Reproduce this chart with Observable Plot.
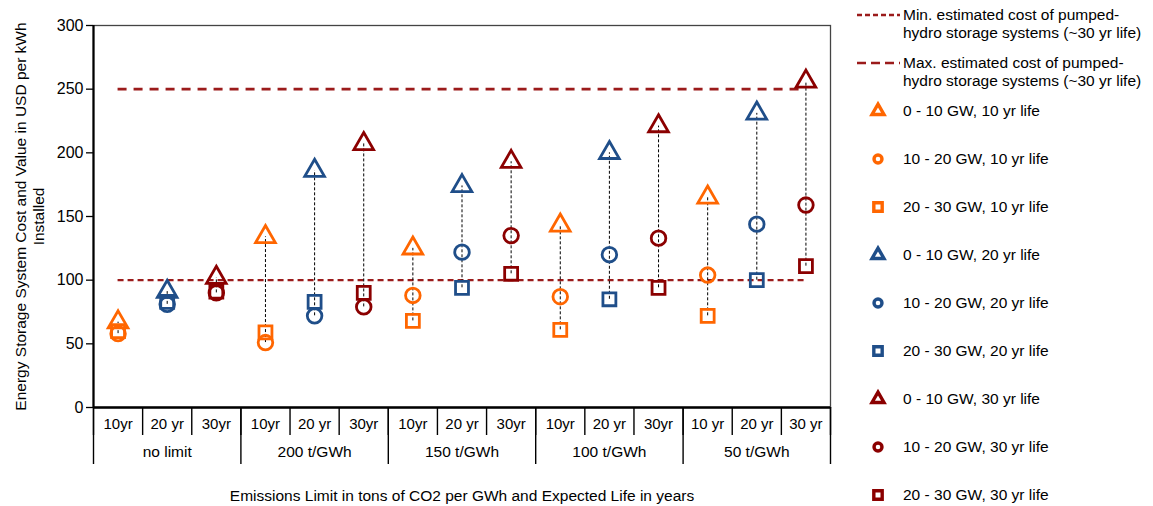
<!DOCTYPE html>
<html>
<head>
<meta charset="utf-8">
<script src="https://cdn.jsdelivr.net/npm/d3@7"></script>
<script src="https://cdn.jsdelivr.net/npm/@observablehq/plot@0.6"></script>
<style>
  html, body { margin: 0; padding: 0; background: #fff; }
  #chart svg { display: block; }
</style>
</head>
<body>
<div id="chart"></div>
<script>
// ---- data ----
const limits = ["no limit", "200 t/GWh", "150 t/GWh", "100 t/GWh", "50 t/GWh"];
const lifeTickLabels = ["10yr", "20 yr", "30yr", "10yr", "20 yr", "30yr", "10yr", "20 yr", "30yr",
                        "10yr", "20 yr", "30yr", "10 yr", "20 yr", "30 yr"];
const lifeKeys = ["10 yr life", "20 yr life", "30 yr life"];
const sizeKeys = ["0 - 10 GW", "10 - 20 GW", "20 - 30 GW"];
// values per category (15 categories: 5 limits x 3 lives)
const val0to10 = [67, 91, 102, 134, 186, 207, 125, 174, 193, 143, 200, 221, 165, 231, 256];
const val10to20 = [58, 81, 90, 51, 72, 79, 88, 122, 135, 87, 120, 133, 104, 144, 159];
const val20to30 = [60, 83, 91, 59, 83, 90, 68, 94, 105, 61, 85, 94, 72, 100, 111];
const minPumpedHydro = 100;
const maxPumpedHydro = 250;
const yTicks = [0, 50, 100, 150, 200, 250, 300];
const yTitle = "Energy Storage System Cost and Value in USD per kWh\nInstalled";
const xTitle = "Emissions Limit in tons of CO2 per GWh and Expected Life in years";
const minLabel = "Min. estimated cost of pumped-\nhydro storage systems (~30 yr life)";
const maxLabel = "Max. estimated cost of pumped-\nhydro storage systems (~30 yr life)";

// ---- styles ----
const lifeColors = ["#FF6600", "#1F4E89", "#8B0000"];
const hydroColor = "#9B1B1B";
const symbols = ["triangle", "circle", "square"];
const sans = "'Liberation Sans', Arial, Helvetica, sans-serif";

// ---- build tables ----
const nCat = lifeTickLabels.length;
const series = [val0to10, val10to20, val20to30];
const points = [];
const ranges = [];
for (let i = 0; i < nCat; i++) {
  const life = lifeKeys[i % 3];
  const vals = series.map(s => s[i]);
  series.forEach((s, k) => points.push({x: i + 0.5, value: s[i], size: sizeKeys[k], life}));
  ranges.push({x: i + 0.5, lo: d3.min(vals), hi: d3.max(vals)});
}
const catBounds = d3.range(nCat + 1);
const groupBounds = d3.range(0, nCat + 1, 3);
const catCenters = d3.range(nCat).map(i => i + 0.5);
const groupCenters = limits.map((_, g) => g * 3 + 1.5);
const firstX = ranges[0].x, lastX = ranges[nCat - 1].x;

const chart = Plot.plot({
  width: 1153,
  height: 506,
  marginLeft: 93,
  marginRight: 323,
  marginTop: 25,
  marginBottom: 99,
  style: {fontFamily: sans, fontSize: "14px", color: "#000", background: "#fff"},
  x: {domain: [0, nCat], label: null},
  y: {domain: [0, 300], label: null},
  color: {domain: lifeKeys, range: lifeColors},
  symbol: {domain: sizeKeys, range: symbols},
  marks: [
    Plot.frame({stroke: "#444", strokeWidth: 1.3}),
    Plot.axisY({ticks: yTicks, tickSize: 7, tickPadding: 3, label: null, fontSize: 16, strokeWidth: 1.3}),
    Plot.axisX({ticks: catBounds, tickSize: 28, tickFormat: () => "", label: null, strokeWidth: 1.4}),
    Plot.axisX({ticks: groupBounds, tickSize: 57, tickFormat: () => "", label: null, strokeWidth: 1.4}),
    Plot.axisX({ticks: catCenters, tickSize: 0, tickPadding: 11, label: null,
      tickFormat: d => lifeTickLabels[Math.floor(d)], fontSize: 15}),
    Plot.axisX({ticks: groupCenters, tickSize: 0, tickPadding: 38, label: null,
      tickFormat: d => limits[Math.floor(d / 3)], fontSize: 15.5}),
    Plot.ruleX([0], {stroke: "#000", strokeWidth: 2.2}),
    Plot.ruleY([0], {stroke: "#000", strokeWidth: 2.5}),
    Plot.ruleY([maxPumpedHydro], {x1: firstX, x2: lastX, stroke: hydroColor, strokeWidth: 2.6, strokeDasharray: "9,7"}),
    Plot.ruleY([minPumpedHydro], {x1: firstX, x2: lastX, stroke: hydroColor, strokeWidth: 2.4, strokeDasharray: "6,4"}),
    Plot.ruleX(ranges, {x: "x", y1: "lo", y2: "hi", stroke: "#000", strokeWidth: 1, strokeDasharray: "3,2"}),
    Plot.dot(points, {x: "x", y: "value", symbol: "size", stroke: "life", fill: "none", r: 7.3, strokeWidth: 2.8}),
    Plot.text([yTitle], {frameAnchor: "left", textAnchor: "middle", dx: -64, rotate: -90, fontSize: 15.5, lineHeight: 1.15, fill: "#000"}),
    Plot.text([xTitle], {frameAnchor: "bottom", textAnchor: "middle", lineAnchor: "middle", dy: 89, fontSize: 15.5, fill: "#000"})
  ]
});
document.getElementById("chart").appendChild(chart);

// ---- legend (right side) ----
const svg = d3.select(chart);
const lg = svg.append("g").attr("font-family", sans).attr("font-size", 15.5)
  .attr("fill", "#000").attr("text-anchor", "start");
const lineItems = [
  {label: minLabel, dash: "5,3", y: 15},
  {label: maxLabel, dash: "9,5", y: 63}
];
lineItems.forEach(it => {
  lg.append("line").attr("x1", 857).attr("x2", 900).attr("y1", it.y).attr("y2", it.y)
    .attr("stroke", hydroColor).attr("stroke-width", 2.4).attr("stroke-dasharray", it.dash);
  const t = lg.append("text").attr("x", 903).attr("y", it.y + 5);
  it.label.split("\n").forEach((s, j) => {
    t.append("tspan").attr("x", 903).attr("dy", j === 0 ? 0 : 18).text(s);
  });
});
const symbolTypes = {triangle: d3.symbolTriangle, circle: d3.symbolCircle, square: d3.symbolSquare};
const symbolSizes = {triangle: 62, circle: 50, square: 70};
let k = 0;
lifeKeys.forEach((life, li) => {
  sizeKeys.forEach((size, si) => {
    const y = 111 + 48 * k;
    const sym = symbols[si];
    lg.append("path").attr("transform", `translate(878,${y})`)
      .attr("d", d3.symbol(symbolTypes[sym], symbolSizes[sym])())
      .attr("fill", "none").attr("stroke", lifeColors[li]).attr("stroke-width", 3.4);
    lg.append("text").attr("x", 903).attr("y", y + 5).text(`${size}, ${life}`);
    k++;
  });
});
</script>
</body>
</html>
